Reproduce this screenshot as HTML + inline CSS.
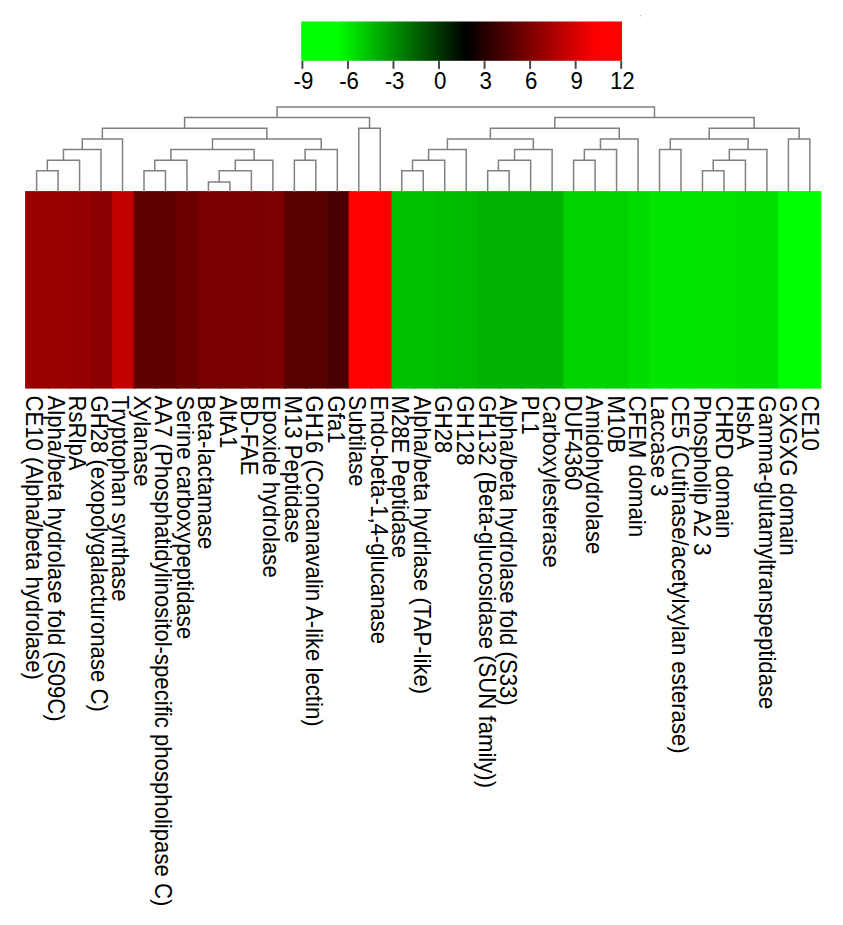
<!DOCTYPE html><html><head><meta charset="utf-8"><style>
html,body{margin:0;padding:0;background:#fff;}
svg{display:block;}
text{font-family:"Liberation Sans",sans-serif;fill:#000;}
</style></head><body><div>
<svg width="843" height="925" viewBox="0 0 843 925">
<defs><linearGradient id="kg" x1="0" x2="1" y1="0" y2="0">
<stop offset="0" stop-color="#00ff00"/><stop offset="0.112" stop-color="#00ff00"/><stop offset="0.514" stop-color="#000000"/><stop offset="0.919" stop-color="#ff0000"/><stop offset="1" stop-color="#ff0000"/>
</linearGradient></defs>
<g>
<rect x="301.2" y="21.5" width="320.80" height="39.30" fill="url(#kg)"/>
<line x1="302.40" y1="61.00" x2="302.40" y2="68.9" stroke="#444" stroke-width="1.9"/>
<text transform="translate(303.50,88.8) scale(1,1.07)" font-size="22.3" text-anchor="middle">-9</text>
<line x1="347.94" y1="61.00" x2="347.94" y2="68.9" stroke="#444" stroke-width="1.9"/>
<text transform="translate(349.04,88.8) scale(1,1.07)" font-size="22.3" text-anchor="middle">-6</text>
<line x1="393.49" y1="61.00" x2="393.49" y2="68.9" stroke="#444" stroke-width="1.9"/>
<text transform="translate(394.59,88.8) scale(1,1.07)" font-size="22.3" text-anchor="middle">-3</text>
<line x1="439.03" y1="61.00" x2="439.03" y2="68.9" stroke="#444" stroke-width="1.9"/>
<text transform="translate(440.13,88.8) scale(1,1.07)" font-size="22.3" text-anchor="middle">0</text>
<line x1="484.57" y1="61.00" x2="484.57" y2="68.9" stroke="#444" stroke-width="1.9"/>
<text transform="translate(485.67,88.8) scale(1,1.07)" font-size="22.3" text-anchor="middle">3</text>
<line x1="530.11" y1="61.00" x2="530.11" y2="68.9" stroke="#444" stroke-width="1.9"/>
<text transform="translate(531.21,88.8) scale(1,1.07)" font-size="22.3" text-anchor="middle">6</text>
<line x1="575.66" y1="61.00" x2="575.66" y2="68.9" stroke="#444" stroke-width="1.9"/>
<text transform="translate(576.76,88.8) scale(1,1.07)" font-size="22.3" text-anchor="middle">9</text>
<line x1="621.20" y1="61.00" x2="621.20" y2="68.9" stroke="#444" stroke-width="1.9"/>
<text transform="translate(622.30,88.8) scale(1,1.07)" font-size="22.3" text-anchor="middle">12</text>
<rect x="25.10" y="191.1" width="24.19" height="197.50" fill="#990000"/>
<rect x="47.79" y="191.1" width="22.99" height="197.50" fill="#990000"/>
<rect x="69.27" y="191.1" width="22.99" height="197.50" fill="#960000"/>
<rect x="90.76" y="191.1" width="22.99" height="197.50" fill="#8a0000"/>
<rect x="112.25" y="191.1" width="22.99" height="197.50" fill="#c20000"/>
<rect x="133.73" y="191.1" width="22.99" height="197.50" fill="#600000"/>
<rect x="155.22" y="191.1" width="22.99" height="197.50" fill="#600000"/>
<rect x="176.71" y="191.1" width="22.99" height="197.50" fill="#6c0000"/>
<rect x="198.19" y="191.1" width="22.99" height="197.50" fill="#780000"/>
<rect x="219.68" y="191.1" width="22.99" height="197.50" fill="#780000"/>
<rect x="241.16" y="191.1" width="22.99" height="197.50" fill="#780000"/>
<rect x="262.65" y="191.1" width="22.99" height="197.50" fill="#7c0000"/>
<rect x="284.14" y="191.1" width="22.99" height="197.50" fill="#580000"/>
<rect x="305.62" y="191.1" width="22.99" height="197.50" fill="#580000"/>
<rect x="327.11" y="191.1" width="22.99" height="197.50" fill="#4a0000"/>
<rect x="348.60" y="191.1" width="22.99" height="197.50" fill="#ff0000"/>
<rect x="370.08" y="191.1" width="22.99" height="197.50" fill="#ff0000"/>
<rect x="391.57" y="191.1" width="22.99" height="197.50" fill="#00c000"/>
<rect x="413.06" y="191.1" width="22.99" height="197.50" fill="#00c000"/>
<rect x="434.54" y="191.1" width="22.99" height="197.50" fill="#00bb00"/>
<rect x="456.03" y="191.1" width="22.99" height="197.50" fill="#00ba00"/>
<rect x="477.52" y="191.1" width="22.99" height="197.50" fill="#00b300"/>
<rect x="499.00" y="191.1" width="22.99" height="197.50" fill="#00b300"/>
<rect x="520.49" y="191.1" width="22.99" height="197.50" fill="#00b300"/>
<rect x="541.98" y="191.1" width="22.99" height="197.50" fill="#00b300"/>
<rect x="563.46" y="191.1" width="22.99" height="197.50" fill="#00d200"/>
<rect x="584.95" y="191.1" width="22.99" height="197.50" fill="#00d200"/>
<rect x="606.44" y="191.1" width="22.99" height="197.50" fill="#00d200"/>
<rect x="627.92" y="191.1" width="22.99" height="197.50" fill="#00dc00"/>
<rect x="649.41" y="191.1" width="22.99" height="197.50" fill="#00e600"/>
<rect x="670.89" y="191.1" width="22.99" height="197.50" fill="#00e600"/>
<rect x="692.38" y="191.1" width="22.99" height="197.50" fill="#00e400"/>
<rect x="713.87" y="191.1" width="22.99" height="197.50" fill="#00e400"/>
<rect x="735.35" y="191.1" width="22.99" height="197.50" fill="#00e000"/>
<rect x="756.84" y="191.1" width="22.99" height="197.50" fill="#00e000"/>
<rect x="778.33" y="191.1" width="22.99" height="197.50" fill="#00ff00"/>
<rect x="799.81" y="191.1" width="21.49" height="197.50" fill="#00ff00"/>
<path d="M36.60 191.10L36.60 170.70 M58.08 191.10L58.08 170.70 M36.60 170.70L58.08 170.70 M47.34 170.70L47.34 160.20 M79.56 191.10L79.56 160.20 M47.34 160.20L79.56 160.20 M63.45 160.20L63.45 149.60 M101.04 191.10L101.04 149.60 M63.45 149.60L101.04 149.60 M82.25 149.60L82.25 138.90 M122.52 191.10L122.52 138.90 M82.25 138.90L122.52 138.90 M144.00 191.10L144.00 170.70 M165.48 191.10L165.48 170.70 M144.00 170.70L165.48 170.70 M154.74 170.70L154.74 160.20 M186.96 191.10L186.96 160.20 M154.74 160.20L186.96 160.20 M208.44 191.10L208.44 181.90 M229.92 191.10L229.92 181.90 M208.44 181.90L229.92 181.90 M219.18 181.90L219.18 170.70 M251.40 191.10L251.40 170.70 M219.18 170.70L251.40 170.70 M235.29 170.70L235.29 160.20 M272.88 191.10L272.88 160.20 M235.29 160.20L272.88 160.20 M170.85 160.20L170.85 149.60 M254.09 160.20L254.09 149.60 M170.85 149.60L254.09 149.60 M294.36 191.10L294.36 160.20 M315.84 191.10L315.84 160.20 M294.36 160.20L315.84 160.20 M305.10 160.20L305.10 149.60 M337.32 191.10L337.32 149.60 M305.10 149.60L337.32 149.60 M212.47 149.60L212.47 138.90 M321.21 149.60L321.21 138.90 M212.47 138.90L321.21 138.90 M102.38 138.90L102.38 128.30 M266.84 138.90L266.84 128.30 M102.38 128.30L266.84 128.30 M358.80 191.10L358.80 128.30 M380.28 191.10L380.28 128.30 M358.80 128.30L380.28 128.30 M184.61 128.30L184.61 117.40 M369.54 128.30L369.54 117.40 M184.61 117.40L369.54 117.40 M401.76 191.10L401.76 170.70 M423.24 191.10L423.24 170.70 M401.76 170.70L423.24 170.70 M412.50 170.70L412.50 160.20 M444.72 191.10L444.72 160.20 M412.50 160.20L444.72 160.20 M428.61 160.20L428.61 149.60 M466.20 191.10L466.20 149.60 M428.61 149.60L466.20 149.60 M487.68 191.10L487.68 170.70 M509.16 191.10L509.16 170.70 M487.68 170.70L509.16 170.70 M498.42 170.70L498.42 160.20 M530.64 191.10L530.64 160.20 M498.42 160.20L530.64 160.20 M514.53 160.20L514.53 149.60 M552.12 191.10L552.12 149.60 M514.53 149.60L552.12 149.60 M447.41 149.60L447.41 138.90 M533.33 149.60L533.33 138.90 M447.41 138.90L533.33 138.90 M573.60 191.10L573.60 160.20 M595.08 191.10L595.08 160.20 M573.60 160.20L595.08 160.20 M584.34 160.20L584.34 149.60 M616.56 191.10L616.56 149.60 M584.34 149.60L616.56 149.60 M600.45 149.60L600.45 138.90 M638.04 191.10L638.04 138.90 M600.45 138.90L638.04 138.90 M490.37 138.90L490.37 128.30 M619.25 138.90L619.25 128.30 M490.37 128.30L619.25 128.30 M659.52 191.10L659.52 149.60 M681.00 191.10L681.00 149.60 M659.52 149.60L681.00 149.60 M702.48 191.10L702.48 170.70 M723.96 191.10L723.96 170.70 M702.48 170.70L723.96 170.70 M713.22 170.70L713.22 160.20 M745.44 191.10L745.44 160.20 M713.22 160.20L745.44 160.20 M729.33 160.20L729.33 149.60 M766.92 191.10L766.92 149.60 M729.33 149.60L766.92 149.60 M670.26 149.60L670.26 138.90 M748.12 149.60L748.12 138.90 M670.26 138.90L748.12 138.90 M788.40 191.10L788.40 138.90 M809.88 191.10L809.88 138.90 M788.40 138.90L809.88 138.90 M709.19 138.90L709.19 128.30 M799.14 138.90L799.14 128.30 M709.19 128.30L799.14 128.30 M554.81 128.30L554.81 117.40 M754.17 128.30L754.17 117.40 M554.81 117.40L754.17 117.40 M277.08 117.40L277.08 106.90 M654.49 117.40L654.49 106.90 M277.08 106.90L654.49 106.90" stroke="#808080" stroke-width="1.5" fill="none" stroke-linecap="square"/>
<text transform="translate(34.36,395.5) rotate(90) scale(1,1.08)" x="0" y="0" dy="0.35em" font-size="22.15">CE10 (Alpha/beta hydrolase)</text>
<text transform="translate(55.91,395.5) rotate(90) scale(1,1.08)" x="0" y="0" dy="0.35em" font-size="22.15">Alpha/beta hydrolase fold (S09C)</text>
<text transform="translate(77.46,395.5) rotate(90) scale(1,1.08)" x="0" y="0" dy="0.35em" font-size="22.15">RsRlpA</text>
<text transform="translate(99.01,395.5) rotate(90) scale(1,1.08)" x="0" y="0" dy="0.35em" font-size="22.15">GH28 (exopolygalacturonase C)</text>
<text transform="translate(120.56,395.5) rotate(90) scale(1,1.08)" x="0" y="0" dy="0.35em" font-size="22.15">Tryptophan synthase</text>
<text transform="translate(142.11,395.5) rotate(90) scale(1,1.08)" x="0" y="0" dy="0.35em" font-size="22.15">Xylanase</text>
<text transform="translate(163.66,395.5) rotate(90) scale(1,1.08)" x="0" y="0" dy="0.35em" font-size="22.15">AA7 (Phosphatidylinositol-specific phospholipase C)</text>
<text transform="translate(185.21,395.5) rotate(90) scale(1,1.08)" x="0" y="0" dy="0.35em" font-size="22.15">Serine carboxypeptidase</text>
<text transform="translate(206.76,395.5) rotate(90) scale(1,1.08)" x="0" y="0" dy="0.35em" font-size="22.15">Beta-lactamase</text>
<text transform="translate(228.31,395.5) rotate(90) scale(1,1.08)" x="0" y="0" dy="0.35em" font-size="22.15">AltA1</text>
<text transform="translate(249.86,395.5) rotate(90) scale(1,1.08)" x="0" y="0" dy="0.35em" font-size="22.15">BD-FAE</text>
<text transform="translate(271.41,395.5) rotate(90) scale(1,1.08)" x="0" y="0" dy="0.35em" font-size="22.15">Epoxide hydrolase</text>
<text transform="translate(292.96,395.5) rotate(90) scale(1,1.08)" x="0" y="0" dy="0.35em" font-size="22.15">M13 Peptidase</text>
<text transform="translate(314.51,395.5) rotate(90) scale(1,1.08)" x="0" y="0" dy="0.35em" font-size="22.15">GH16 (Concanavalin A-like lectin)</text>
<text transform="translate(336.06,395.5) rotate(90) scale(1,1.08)" x="0" y="0" dy="0.35em" font-size="22.15">Gfa1</text>
<text transform="translate(357.61,395.5) rotate(90) scale(1,1.08)" x="0" y="0" dy="0.35em" font-size="22.15">Subtilase</text>
<text transform="translate(379.16,395.5) rotate(90) scale(1,1.08)" x="0" y="0" dy="0.35em" font-size="22.15">Endo-beta-1,4-glucanase</text>
<text transform="translate(400.71,395.5) rotate(90) scale(1,1.08)" x="0" y="0" dy="0.35em" font-size="22.15">M28E Peptidase</text>
<text transform="translate(422.26,395.5) rotate(90) scale(1,1.08)" x="0" y="0" dy="0.35em" font-size="22.15">Alpha/beta hydrlase (TAP-like)</text>
<text transform="translate(443.81,395.5) rotate(90) scale(1,1.08)" x="0" y="0" dy="0.35em" font-size="22.15">GH28</text>
<text transform="translate(465.36,395.5) rotate(90) scale(1,1.08)" x="0" y="0" dy="0.35em" font-size="22.15">GH128</text>
<text transform="translate(486.91,395.5) rotate(90) scale(1,1.08)" x="0" y="0" dy="0.35em" font-size="22.15">GH132 (Beta-glucosidase (SUN family))</text>
<text transform="translate(508.46,395.5) rotate(90) scale(1,1.08)" x="0" y="0" dy="0.35em" font-size="22.15">Alpha/beta hydrolase fold (S33)</text>
<text transform="translate(530.01,395.5) rotate(90) scale(1,1.08)" x="0" y="0" dy="0.35em" font-size="22.15">PL1</text>
<text transform="translate(551.56,395.5) rotate(90) scale(1,1.08)" x="0" y="0" dy="0.35em" font-size="22.15">Carboxylesterase</text>
<text transform="translate(573.11,395.5) rotate(90) scale(1,1.08)" x="0" y="0" dy="0.35em" font-size="22.15">DUF4360</text>
<text transform="translate(594.66,395.5) rotate(90) scale(1,1.08)" x="0" y="0" dy="0.35em" font-size="22.15">Amidohydrolase</text>
<text transform="translate(616.21,395.5) rotate(90) scale(1,1.08)" x="0" y="0" dy="0.35em" font-size="22.15">M10B</text>
<text transform="translate(637.76,395.5) rotate(90) scale(1,1.08)" x="0" y="0" dy="0.35em" font-size="22.15">CFEM domain</text>
<text transform="translate(659.31,395.5) rotate(90) scale(1,1.08)" x="0" y="0" dy="0.35em" font-size="22.15">Laccase 3</text>
<text transform="translate(680.86,395.5) rotate(90) scale(1,1.08)" x="0" y="0" dy="0.35em" font-size="22.15">CE5 (Cutinase/acetylxylan esterase)</text>
<text transform="translate(702.41,395.5) rotate(90) scale(1,1.08)" x="0" y="0" dy="0.35em" font-size="22.15">Phospholip A2 3</text>
<text transform="translate(723.96,395.5) rotate(90) scale(1,1.08)" x="0" y="0" dy="0.35em" font-size="22.15">CHRD domain</text>
<text transform="translate(745.51,395.5) rotate(90) scale(1,1.08)" x="0" y="0" dy="0.35em" font-size="22.15">HsbA</text>
<text transform="translate(767.06,395.5) rotate(90) scale(1,1.08)" x="0" y="0" dy="0.35em" font-size="22.15">Gamma-glutamyltranspeptidase</text>
<text transform="translate(788.61,395.5) rotate(90) scale(1,1.08)" x="0" y="0" dy="0.35em" font-size="22.15">GXGXG domain</text>
<text transform="translate(810.16,395.5) rotate(90) scale(1,1.08)" x="0" y="0" dy="0.35em" font-size="22.15">CE10</text>
<circle cx="640.5" cy="15.8" r="0.8" fill="#bbb"/>
</g></svg></div></body></html>
